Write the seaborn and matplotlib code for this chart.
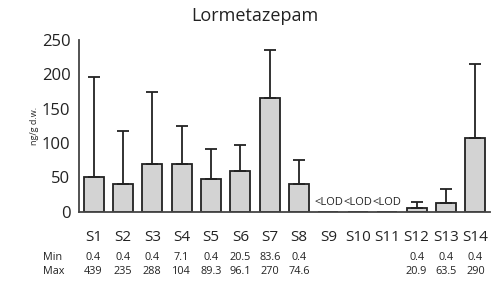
import numpy as np
import pandas as pd
import matplotlib.pyplot as plt
import matplotlib.transforms as mtransforms
import seaborn as sns

sites = ["S1", "S2", "S3", "S4", "S5", "S6", "S7", "S8", "S9", "S10", "S11", "S12", "S13", "S14"]
means = [50, 41, 70, 70, 47, 59, 166, 40, 0, 0, 0, 6, 13, 107]
err_top = [196, 117, 175, 125, 92, 97, 236, 76, 0, 0, 0, 14, 33, 215]
lod = [False, False, False, False, False, False, False, False, True, True, True, False, False, False]
min_vals = ["0.4", "0.4", "0.4", "7.1", "0.4", "20.5", "83.6", "0.4", "", "", "", "0.4", "0.4", "0.4"]
max_vals = ["439", "235", "288", "104", "89.3", "96.1", "270", "74.6", "", "", "", "20.9", "63.5", "290"]

df = pd.DataFrame({"site": sites, "mean": means})

sns.set_style("white")
plt.rcParams["font.family"] = ["Open Sans", "DejaVu Sans"]

fig = plt.figure(figsize=(4.99, 2.84), dpi=100)
ax = fig.add_axes([0.158, 0.2546, 0.824, 0.6044])

sns.barplot(data=df, x="site", y="mean", color="#d3d3d3", edgecolor="#222222",
            linewidth=1.3, width=0.68, saturation=1, ax=ax)

# only the upper half of the error bar
x = np.arange(len(sites))
m = np.array(means, dtype=float)
up = np.array(err_top, dtype=float) - m
keep = ~np.array(lod)
ax.errorbar(x[keep], m[keep], yerr=[np.zeros(keep.sum()), up[keep]], fmt="none",
            ecolor="#222222", elinewidth=1.3, capsize=4, capthick=1.3)

for i, flag in enumerate(lod):
    if flag:
        ax.text(i, 14, "<LOD", ha="center", va="center", fontsize=8, color="#222222")

ax.set_ylim(0, 250)
ax.set_yticks([0, 50, 100, 150, 200, 250])
ax.set_xlim(-0.5, 13.5)
ax.set_xlabel("")
ax.set_ylabel("ng/g d.w.", fontsize=6.5, labelpad=2)
ax.tick_params(axis="y", length=4, width=1, direction="out", labelsize=12, pad=2, colors="#222222")
ax.tick_params(axis="x", length=0, labelsize=11, pad=13, colors="#222222")
sns.despine(ax=ax)
for side in ["left", "bottom"]:
    ax.spines[side].set_color("#444444")
    ax.spines[side].set_linewidth(1.3)

fig.text(255 / 499, 1 - 16 / 284, "Lormetazepam", ha="center", va="center", fontsize=13, color="#222222")

# min / max table under the axis
trans = mtransforms.blended_transform_factory(ax.transData, fig.transFigure)
fig.text(43 / 499, 1 - 258 / 284, "Min", ha="left", va="center", fontsize=7.8, color="#222222")
fig.text(43 / 499, 1 - 272 / 284, "Max", ha="left", va="center", fontsize=7.8, color="#222222")
for i in range(len(sites)):
    ax.text(i, 1 - 258 / 284, min_vals[i], transform=trans, ha="center", va="center",
            fontsize=7.8, color="#222222")
    ax.text(i, 1 - 272 / 284, max_vals[i], transform=trans, ha="center", va="center",
            fontsize=7.8, color="#222222")

fig.savefig("out.png", dpi=100)
